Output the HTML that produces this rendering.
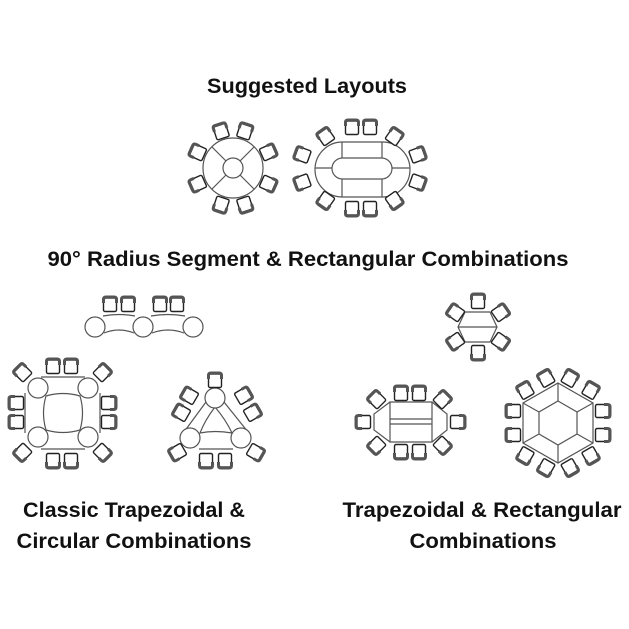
<!DOCTYPE html>
<html><head><meta charset="utf-8"><style>
html,body{margin:0;padding:0;background:#fff;}
svg{display:block}
text{font-family:"Liberation Sans",sans-serif;font-weight:bold;fill:#111;}
</style></head><body>
<svg id="s" width="629" height="629" viewBox="0 0 629 629" xmlns="http://www.w3.org/2000/svg">
<g fill="none" stroke="#555" stroke-width="1.2">
<circle cx="233" cy="168" r="30" fill="#fff"/>
<circle cx="233" cy="168" r="10"/>
<path d="M240,175 L254,189 M226,175 L212,189 M226,161 L212,147 M240,161 L254,147"/>
<rect x="315" y="142" width="95" height="55" rx="27.5" fill="#fff"/>
<rect x="332" y="158" width="60" height="21" rx="10.5"/>
<path d="M342,142 V158 M382,142 V158 M342,179 V197 M382,179 V197 M315,168 H332 M392,168 H410"/>
<path d="M103,316 Q119,313 135,316 M151,316 Q168,313 185,316 M104,333 Q119,327 134,333 M152,333 Q168,327 184,333" fill="#fff"/>
<circle cx="95" cy="327" r="10" fill="#fff"/><circle cx="143" cy="327" r="10" fill="#fff"/><circle cx="193" cy="327" r="10" fill="#fff"/>
<path d="M41,377 H85 M41,449 H85 M25,393 V433 M100,393 V433"/>
<path d="M46,396 Q63,391 80,396 Q85,413 80,430 Q63,435 46,430 Q41,413 46,396Z"/>
<circle cx="38" cy="388" r="10" fill="#fff"/><circle cx="88" cy="388" r="10" fill="#fff"/><circle cx="38" cy="437" r="10" fill="#fff"/><circle cx="88" cy="437" r="10" fill="#fff"/>
<path d="M206,402 L184,432 M224,402 L248,432 M199,449 H233"/>
<path d="M215,407 Q205,420 200,433 Q215,430 232,433 Q226,420 215,407Z"/>
<circle cx="215" cy="398" r="10" fill="#fff"/><circle cx="190" cy="438" r="10" fill="#fff"/><circle cx="241" cy="438" r="10" fill="#fff"/>
<path d="M465,312 H490 L497,327 L490,342 H465 L458,327Z M458,327 H497" fill="#fff"/>
<path d="M390,402 H432 V442 H390Z M390,402 L374,414 V430 L390,442 M432,402 L447,414 V430 L432,442 M390,419 H432 M390,424 H432" />
<path d="M558,383 L593,403 L593,443 L558,463 L523,443 L523,403Z"/>
<path d="M558,401 L577,412 L577,434 L558,445 L539,434 L539,412Z"/>
<path d="M558,383 V401 M593,403 L577,412 M593,443 L577,434 M558,463 V445 M523,443 L539,434 M523,403 L539,412"/>
</g>
<g id="chairs"></g>
<text x="307" y="93" text-anchor="middle" font-size="21" textLength="200" lengthAdjust="spacingAndGlyphs">Suggested Layouts</text>
<text x="308" y="266" text-anchor="middle" font-size="21" textLength="521" lengthAdjust="spacingAndGlyphs">90° Radius Segment &amp; Rectangular Combinations</text>
<text x="134" y="517" text-anchor="middle" font-size="21" textLength="222" lengthAdjust="spacingAndGlyphs">Classic Trapezoidal &amp;</text>
<text x="134" y="548" text-anchor="middle" font-size="21" textLength="235" lengthAdjust="spacingAndGlyphs">Circular Combinations</text>
<text x="482" y="517" text-anchor="middle" font-size="21" textLength="279" lengthAdjust="spacingAndGlyphs">Trapezoidal &amp; Rectangular</text>
<text x="483" y="548" text-anchor="middle" font-size="21" textLength="147" lengthAdjust="spacingAndGlyphs">Combinations</text>
</svg>
<script>
var g=document.getElementById('chairs'),out='';
function ch(x,y,t){out+='<g transform="translate('+x.toFixed(1)+','+y.toFixed(1)+') rotate('+(t+90)+')"><rect x="-6.5" y="-7" width="13" height="13.5" rx="1.5" fill="#fff" stroke="#222" stroke-width="1.4"/><path d="M-6.5,-2 V-5.5 Q-6.5,-8 -4,-8 H4 Q6.5,-8 6.5,-5.5 V-2" fill="none" stroke="#555" stroke-width="3"/></g>';}
function pol(cx,cy,r,a){var k=a*Math.PI/180;ch(cx+r*Math.cos(k),cy+r*Math.sin(k),a);}
[-108,-72,-24,24,72,108,156,-156].forEach(function(a){pol(233,168,38,a);});
ch(352,128,-90);ch(370,128,-90);ch(352,208,90);ch(370,208,90);
ch(326,137,-125);ch(394,137,-55);ch(326,200,125);ch(394,200,55);
ch(303,155,-160);ch(303,182,160);ch(417,155,-20);ch(417,182,20);
[110,128,160,177].forEach(function(x){ch(x,305,-90);});
ch(53,367,-90);ch(71,367,-90);ch(53,460,90);ch(71,460,90);
ch(17,403,180);ch(17,422,180);ch(108,403,0);ch(108,422,0);
ch(23,373,-135);ch(102,373,-45);ch(23,452,135);ch(102,452,45);
ch(215,381,-90);ch(190,396,-150);ch(182,413,-150);ch(243,396,-30);ch(252,413,-30);
ch(178,452,150);ch(255,452,30);ch(206,460,90);ch(225,460,90);
ch(478,302,-90);ch(478,352,90);ch(456,313,-145);ch(500,313,-35);ch(456,341,145);ch(500,341,35);
ch(401,394,-90);ch(419,394,-90);ch(401,451,90);ch(419,451,90);ch(364,422,180);ch(457,422,0);
ch(377,400,-135);ch(442,400,-45);ch(377,445,135);ch(442,445,45);
[0,60,120,180,240,300].forEach(function(p){var k=p*Math.PI/180,nx=Math.cos(k),ny=Math.sin(k),tx=-ny,ty=nx;
[-12,12].forEach(function(o){ch(558+44*nx+o*tx,423+44*ny+o*ty,p);});});
g.innerHTML=out;
</script>
</body></html>
